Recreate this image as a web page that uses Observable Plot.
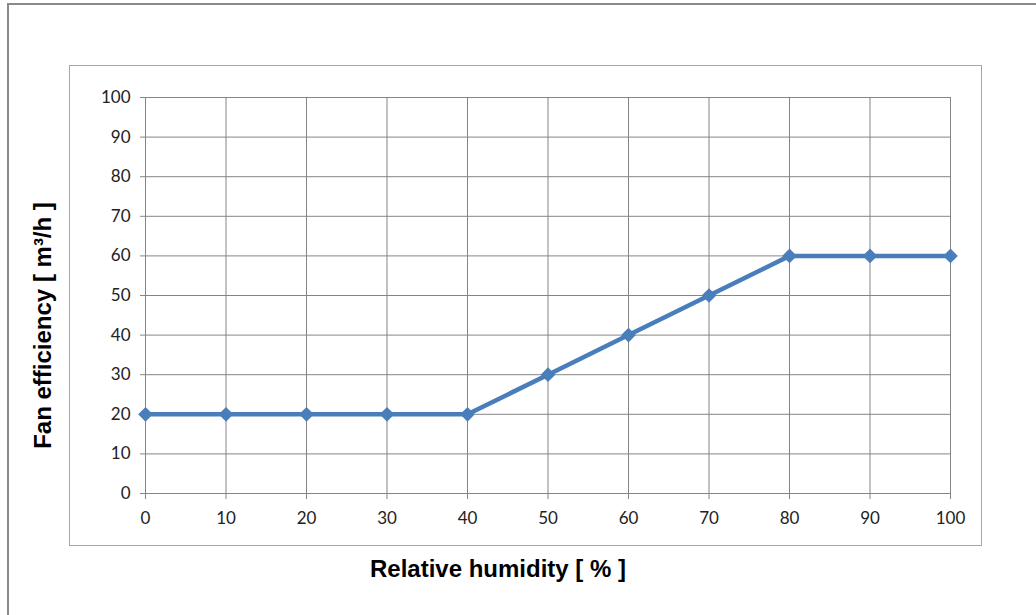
<!DOCTYPE html>
<html>
<head>
<meta charset="utf-8">
<script src="https://cdn.jsdelivr.net/npm/d3@7"></script>
<script src="https://cdn.jsdelivr.net/npm/@observablehq/plot@0.6"></script>
<style>
  html, body { margin: 0; padding: 0; background: #fff; }
  #wrap { position: relative; width: 1036px; height: 615px; overflow: hidden; }
  #wrap svg { position: absolute; left: 0; top: 0; background: transparent; }
  .frame { position: absolute; pointer-events: none; box-sizing: border-box; }
</style>
</head>
<body>
<div id="wrap">
  <div class="frame" style="left:7px; top:3px; width:1100px; height:700px; border:2px solid #8a8a8a;"></div>
  <div class="frame" style="left:69px; top:65px; width:913px; height:481px; border:1.5px solid #a6a6a6;"></div>
</div>
<script>
const humidity = [0, 10, 20, 30, 40, 50, 60, 70, 80, 90, 100];
const efficiency = [20, 20, 20, 20, 20, 30, 40, 50, 60, 60, 60];
const xTicks = [0, 10, 20, 30, 40, 50, 60, 70, 80, 90, 100];
const yTicks = [0, 10, 20, 30, 40, 50, 60, 70, 80, 90, 100];
const xLabel = "Relative humidity [ % ]";
const yLabel = "Fan efficiency [ m³/h ]";

const data = humidity.map((h, i) => ({h, e: efficiency[i]}));
const lineColor = "#4a7ebb";
const gridColor = "#858585";
const tickFont = "Lato, 'Open Sans', sans-serif";
const titleFont = "'Liberation Sans', Arial, sans-serif";

const chart = Plot.plot({
  width: 1036,
  height: 615,
  marginLeft: 145,
  marginRight: 86,
  marginTop: 97,
  marginBottom: 122,
  style: {background: "transparent", overflow: "visible"},
  x: {domain: [0, 100], ticks: xTicks},
  y: {domain: [0, 100], ticks: yTicks},
  marks: [
    Plot.gridX(xTicks, {stroke: gridColor, strokeOpacity: 1, strokeWidth: 1}),
    Plot.gridY(yTicks, {stroke: gridColor, strokeOpacity: 1, strokeWidth: 1}),
    Plot.axisX(xTicks, {
      tickSize: 6, tickPadding: 12, stroke: gridColor,
      fontSize: 17, fontFamily: tickFont, fill: "#222", label: null
    }),
    Plot.axisY(yTicks, {
      tickSize: 5, tickPadding: 10, stroke: gridColor,
      fontSize: 17, fontFamily: tickFont, fill: "#222", label: null
    }),
    Plot.line(data, {x: "h", y: "e", stroke: lineColor, strokeWidth: 4.5}),
    Plot.dot(data, {x: "h", y: "e", symbol: "diamond2", r: 6.6, fill: lineColor, stroke: "none"}),
    Plot.text([xLabel], {
      frameAnchor: "bottom", textAnchor: "middle", lineAnchor: "middle",
      dx: -50, dy: 76,
      fontSize: 24, fontWeight: "bold", fontFamily: titleFont, fill: "#000"
    }),
    Plot.text([yLabel], {
      frameAnchor: "left", textAnchor: "middle", lineAnchor: "middle",
      dx: -102, dy: 30, rotate: -90,
      fontSize: 24, fontWeight: "bold", fontFamily: titleFont, fill: "#000"
    })
  ]
});
document.getElementById("wrap").prepend(chart);
</script>
</body>
</html>
